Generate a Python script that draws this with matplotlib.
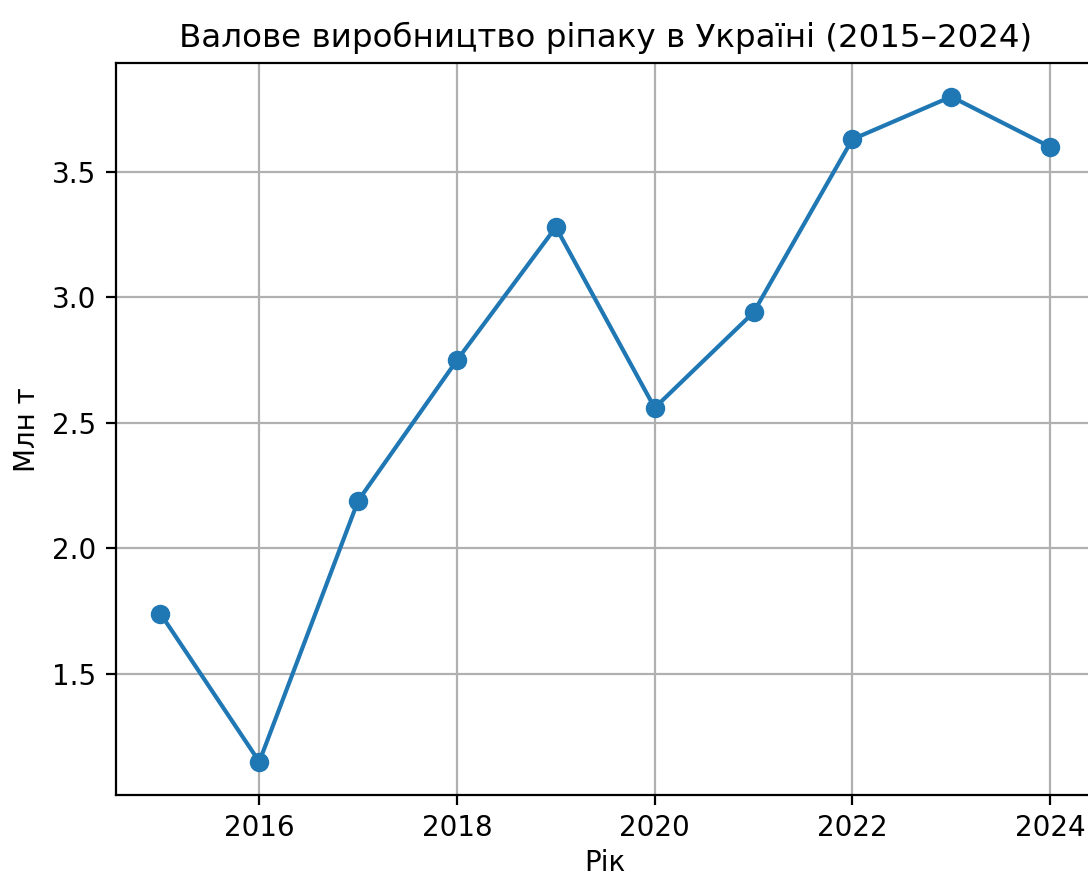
import matplotlib
matplotlib.use("Agg")
import matplotlib.pyplot as plt

# Валове виробництво ріпаку, млн т
years = [2015, 2016, 2017, 2018, 2019, 2020, 2021, 2022, 2023, 2024]
production = [1.74, 1.15, 2.19, 2.75, 3.28, 2.56, 2.94, 3.63, 3.80, 3.60]

fig = plt.figure(figsize=(5.44, 4.38), dpi=200)
ax = fig.add_axes([0.1066, 0.0925, 0.8994, 0.8351])

ax.plot(years, production, marker='o', linewidth=1.5, markersize=6)

ax.set_title("Валове виробництво ріпаку в Україні (2015–2024)", fontsize=11.7)
ax.set_xlabel("Рік", labelpad=2.5)
ax.set_ylabel("Млн т")
ax.grid(True)

fig.savefig("out.png", dpi=200)
